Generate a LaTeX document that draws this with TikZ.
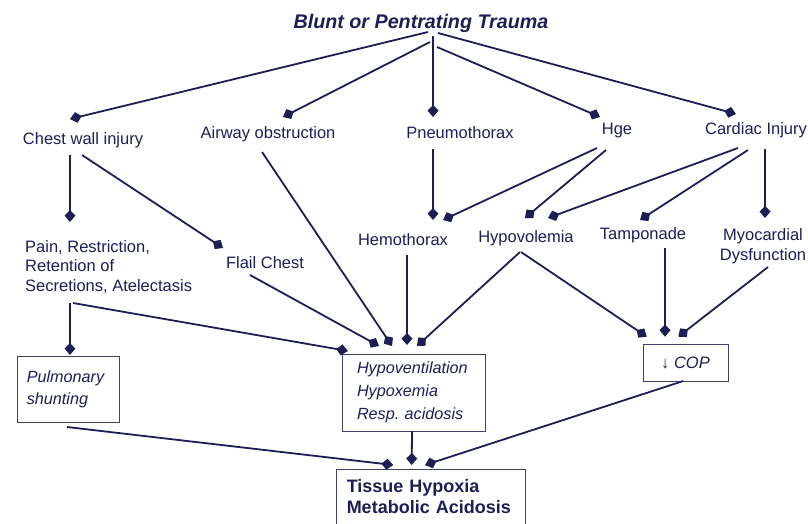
\documentclass[tikz,border=0pt]{standalone}
\usepackage{fontspec}
\setmainfont{Liberation Sans}
\usetikzlibrary{arrows.meta,calc}
\definecolor{ink}{RGB}{30,30,85}
\begin{document}
\begin{tikzpicture}[x=1pt,y=-1pt,
  lbl/.style={inner sep=0pt, text=ink, font=\fontsize{16.5}{19.5}\selectfont},
  boxnode/.style={draw=ink!85, line width=0.9pt, inner sep=0pt, text=ink},
  conn/.style={draw=ink, line width=1.8pt, -{Kite[length=12pt,width=11pt,inset=5.5pt]}}]
\clip (0,0) rectangle (808,523);
\fill[white] (0,0) rectangle (808,523);

% top level
\node[lbl, font=\fontsize{19.7}{24}\selectfont\bfseries\itshape] (T) at (421,23) {Blunt or Pentrating Trauma};
\node[lbl] (cw) at (83,140) {Chest wall injury};
\node[lbl] (aw) at (268,134) {Airway obstruction};
\node[lbl] (pn) at (460,133) {Pneumothorax};
\node[lbl] (hge) at (617,131) {Hge};
\node[lbl] (ci) at (756,130) {Cardiac Injury};

% second level
\node[lbl, align=left, anchor=west] (pain) at (25,267) {Pain, Restriction,\\Retention of\\Secretions, Atelectasis};
\node[lbl] (fc) at (265,263) {Flail Chest};
\node[lbl] (hemo) at (403,240) {Hemothorax};
\node[lbl] (hypo) at (526,238) {Hypovolemia};
\node[lbl] (tamp) at (643,235) {Tamponade};
\node[lbl, align=center, font=\fontsize{16.5}{20}\selectfont] (myo) at (763,246) {Myocardial\\Dysfunction};

% boxes
\node[boxnode, minimum width=102pt, minimum height=66pt, text width=83pt, align=left,
      font=\fontsize{16.2}{22}\selectfont\itshape] (ps) at (68.3,389.7) {Pulmonary\\shunting};
\node[boxnode, minimum width=143.5pt, minimum height=77pt, text width=114pt, align=left,
      font=\fontsize{16.2}{23}\selectfont\itshape] (hv) at (414,392.5) {Hypoventilation\\Hypoxemia\\Resp.\ acidosis};
\node[boxnode, minimum width=85pt, minimum height=37pt,
      font=\fontsize{16.5}{21}\selectfont] (cop) at (685.5,362.5) {↓ \textit{COP}};
\node[boxnode, minimum width=188.3pt, minimum height=55pt, text width=168.3pt, align=left,
      font=\fontsize{18}{21}\selectfont\bfseries] (th) at (430.9,496.5) {Tissue Hypoxia\\Metabolic Acidosis};

% connectors from the trauma
\draw[conn] ($(T)+(7,9)$) -- ($(cw)+(-13,-21)$);
\draw[conn] ($(T)+(9,19)$) -- ($(aw)+(15,-17)$);
\draw[conn] ($(T)+(12,13)$) -- ($(pn)+(-27,-16)$);
\draw[conn] ($(T)+(16,24)$) -- ($(hge)+(-17,-14)$);
\draw[conn] ($(T)+(17,10)$) -- ($(ci)+(-20,-16)$);

% second level connectors
\draw[conn] ($(cw)+(-13,15)$) -- ($(pain.west)+(45,-45)$);
\draw[conn] ($(cw)+(-1,15)$) -- ($(fc)+(-42,-15)$);
\draw[conn] ($(aw)+(-6,18)$) -- ($(hv)+(-22,-46.5)$);
\draw[conn] ($(pn)+(-27,16)$) -- ($(hemo)+(30,-20)$);
\draw[conn] ($(hge)+(-20,17)$) -- ($(hemo)+(40,-20)$);
\draw[conn] ($(hge)+(-11,19)$) -- ($(hypo)+(-1,-20)$);
\draw[conn] ($(ci)+(-18,18)$) -- ($(hypo)+(22,-20)$);
\draw[conn] ($(ci)+(-8,20)$) -- ($(tamp)+(-3,-15)$);
\draw[conn] ($(ci)+(9,19)$) -- ($(myo)+(2,-28)$);

% third level connectors
\draw[conn] ($(pain.west)+(45,36)$) -- ($(ps)+(1.7,-34.7)$);
\draw[conn] ($(pain.west)+(48,36)$) -- ($(hv)+(-66,-41.5)$);
\draw[conn] ($(fc)+(-15,12)$) -- ($(hv)+(-35,-46.5)$);
\draw[conn] ($(hemo)+(4,15)$) -- ($(hv)+(-7,-47.5)$);
\draw[conn] ($(hypo)+(-6,14)$) -- ($(hv)+(3,-46.5)$);
\draw[conn] ($(hypo)+(-5,14)$) -- ($(cop)+(-38.8,-25.8)$);
\draw[conn] ($(tamp)+(22,13)$) -- ($(cop)+(-20.5,-25.8)$);
\draw[conn] ($(myo)+(5,21)$) -- ($(cop)+(-7.2,-25.8)$);

% to tissue hypoxia
\draw[conn] ($(ps)+(-1.3,37.3)$) -- ($(th)+(-37.6,-31.5)$);
\draw[conn] ($(hv)+(-2,38.5)$) -- ($(th)+(-19.2,-31.5)$);
\draw[conn] ($(cop)+(-2.2,18.5)$) -- ($(th)+(-5.9,-31.5)$);
\end{tikzpicture}
\end{document}
